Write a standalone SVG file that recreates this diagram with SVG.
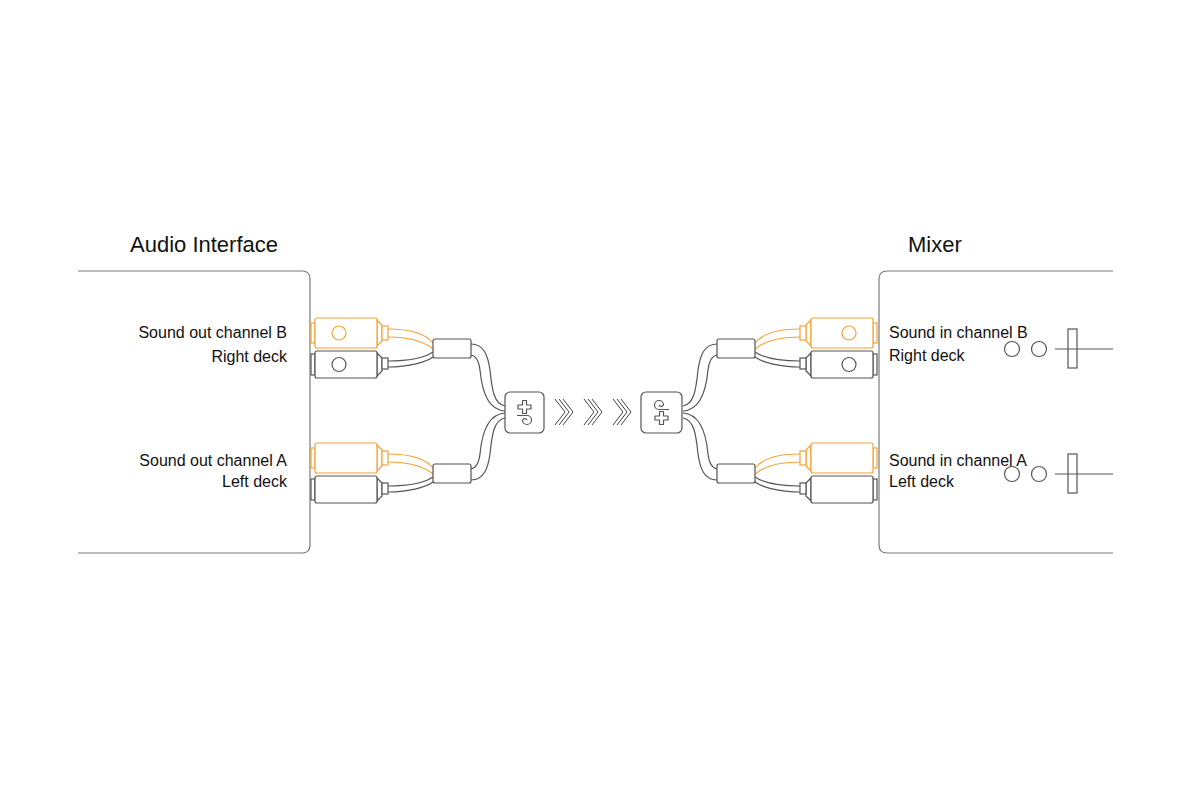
<svg xmlns="http://www.w3.org/2000/svg" xmlns:xlink="http://www.w3.org/1999/xlink" width="1200" height="800" viewBox="0 0 1200 800">
<style>
.bg{fill:#ffffff}
.box{fill:none;stroke:#7a7a7a;stroke-width:1.2}
.o{fill:#ffffff;stroke:#F5A235;stroke-width:1.2}
.ow{fill:none;stroke:#F5A235;stroke-width:1.2}
.k{fill:#ffffff;stroke:#555555;stroke-width:1.2}
.kw{fill:none;stroke:#555555;stroke-width:1.2}
.t{font-family:"Liberation Sans",Arial,sans-serif;font-size:16px;fill:#111111}
.title{font-family:"Liberation Sans",Arial,sans-serif;font-size:22px;fill:#111111}
.chev{fill:none;stroke:#444444;stroke-width:1}
</style>
<defs>
  <g id="plugs">
    <rect class="o" x="311" y="323" width="4" height="20"/>
    <polygon class="o" points="377,320 382,325 382,341 377,346"/>
    <rect class="o" x="382" y="326" width="6" height="14"/>
    <rect class="o" x="315" y="318" width="62" height="30" rx="2"/>
    <rect class="k" x="311" y="354" width="4" height="21"/>
    <polygon class="k" points="377,353 382,358 382,371 377,376"/>
    <rect class="k" x="382" y="358" width="6" height="11"/>
    <rect class="k" x="315" y="351" width="62" height="27" rx="2"/>
    <path class="ow" d="M388,329 C410,329 425,333 433,343"/>
    <path class="ow" d="M388,337 C406,337 422,340 433,349"/>
    <path class="kw" d="M388,361 C408,361 424,358 433,352"/>
    <path class="kw" d="M388,367 C410,367 426,362 433,357"/>
    <rect class="k" x="433" y="339" width="38" height="19" rx="2"/>
  </g>
  <g id="cable">
    <path class="kw" d="M471,344 C484,344 488,356 490,370 C492,390 494,404 505,406"/>
    <path class="kw" d="M471,355 C477,356 479,362 480,370 C482,392 488,410 505,411"/>
  </g>
  <g id="chevs">
    <path class="chev" d="M0,0 L10,13 L0,26"/>
    <path class="chev" d="M4,0 L14,13 L4,26"/>
    <path class="chev" d="M8,0 L18,13 L8,26"/>
  </g>
  <g id="icon">
    <path class="kw" stroke-linejoin="round" d="M522.5,400.5 H526.5 V405 H531 V409 H526.5 V413.5 H522.5 V409 H518 V405 H522.5 Z"/>
    <path class="kw" d="M517,415.5 H527 A4.5,4.5 0 1 1 522.5,420 A2.5,2.5 0 0 1 527,420"/>
  </g>
</defs>
<rect class="bg" x="0" y="0" width="1200" height="800"/>

<g id="audio-interface">
  <path class="box" d="M78,271 H302 Q310,271 310,279 V545 Q310,553 302,553 H78"/>
  <text class="title" x="130" y="252">Audio Interface</text>
  <text class="t" x="287" y="338" text-anchor="end">Sound out channel B</text>
  <text class="t" x="287" y="362" text-anchor="end">Right deck</text>
  <text class="t" x="287" y="466" text-anchor="end">Sound out channel A</text>
  <text class="t" x="287" y="487" text-anchor="end">Left deck</text>
</g>

<g id="mixer">
  <path class="box" d="M1113,271 H887 Q879,271 879,279 V545 Q879,553 887,553 H1113"/>
  <text class="title" x="908" y="252">Mixer</text>
  <text class="t" x="889" y="338">Sound in channel B</text>
  <text class="t" x="889" y="361">Right deck</text>
  <text class="t" x="889" y="466">Sound in channel A</text>
  <text class="t" x="889" y="487">Left deck</text>
  <circle class="k" cx="1012" cy="349" r="7.5"/>
  <circle class="k" cx="1039" cy="349" r="7.5"/>
  <line class="kw" x1="1055" y1="349" x2="1113" y2="349"/>
  <rect class="k" x="1068" y="329" width="9" height="39" fill-opacity="0"/>
  <circle class="k" cx="1012" cy="474" r="7.5"/>
  <circle class="k" cx="1039" cy="474" r="7.5"/>
  <line class="kw" x1="1055" y1="474" x2="1113" y2="474"/>
  <rect class="k" x="1068" y="454" width="9" height="39" fill-opacity="0"/>
</g>

<g id="connectors">
  <g id="left-cables">
    <use xlink:href="#plugs"/>
    <use xlink:href="#plugs" transform="translate(0,125)"/>
    <circle class="o" cx="339" cy="333" r="7"/>
    <circle class="k" cx="339" cy="364.5" r="7"/>
    <use xlink:href="#cable"/>
    <use xlink:href="#cable" transform="matrix(1,0,0,-1,0,824)"/>
  </g>
  <g id="right-cables" transform="matrix(-1,0,0,1,1188,0)">
    <use xlink:href="#plugs"/>
    <use xlink:href="#plugs" transform="translate(0,125)"/>
    <circle class="o" cx="339" cy="333" r="7"/>
    <circle class="k" cx="339" cy="364.5" r="7"/>
    <use xlink:href="#cable"/>
    <use xlink:href="#cable" transform="matrix(1,0,0,-1,0,824)"/>
  </g>
  <g id="arrows">
    <use xlink:href="#chevs" transform="translate(555,399)"/>
    <use xlink:href="#chevs" transform="translate(584,399)"/>
    <use xlink:href="#chevs" transform="translate(613,399)"/>
  </g>
</g>

<g id="adapter-left">
  <rect class="k" x="505" y="392" width="39" height="41" rx="5"/>
  <use xlink:href="#icon"/>
</g>
<g id="adapter-right">
  <rect class="k" x="641" y="392" width="41" height="41" rx="5"/>
  <use xlink:href="#icon" transform="rotate(180 524.5 412.5) translate(-137 0)"/>
</g>
</svg>
